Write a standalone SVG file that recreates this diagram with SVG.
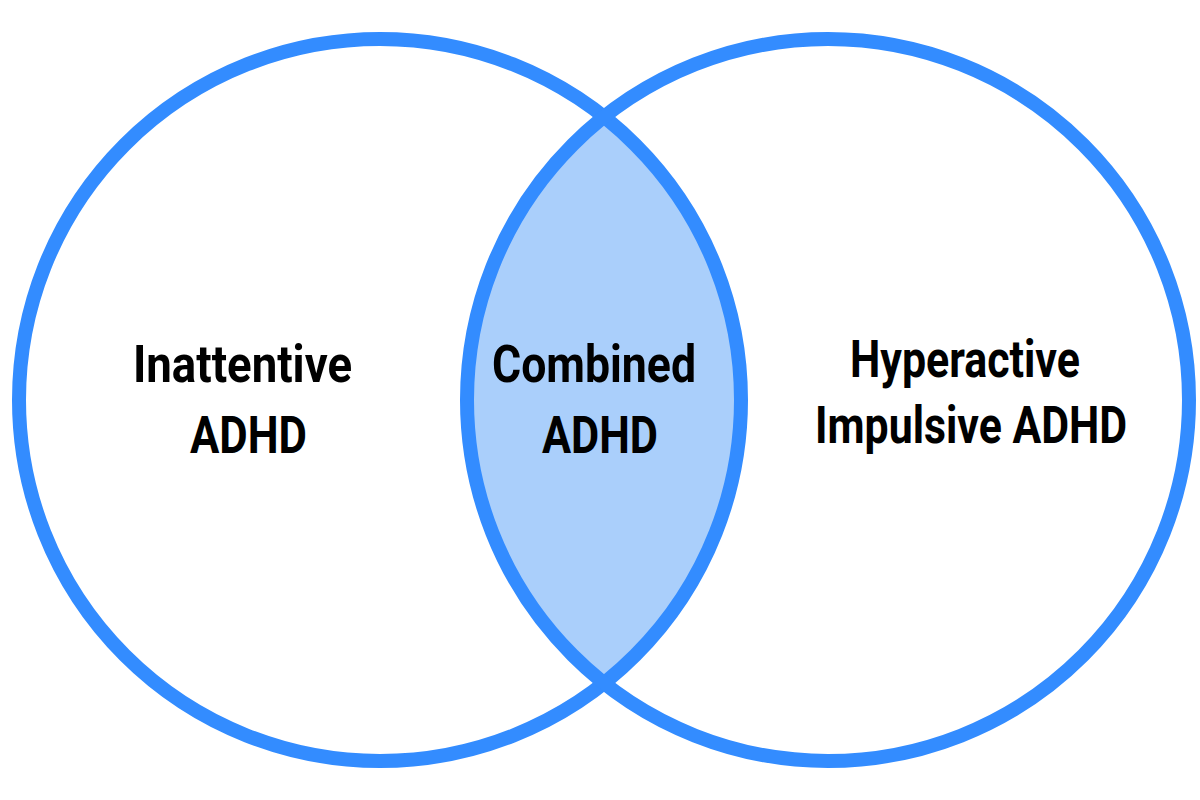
<svg xmlns="http://www.w3.org/2000/svg" width="1200" height="800" viewBox="0 0 1200 800">
  <style>
    .ring { fill: none; stroke: #338cff; stroke-width: 14; }
    .lens { fill: #aacffb; stroke: none; }
    .label { font-family: Roboto, "Liberation Sans", sans-serif; font-weight: bold; font-size: 52px; fill: #000; text-anchor: middle; }
  </style>
  <rect width="1200" height="800" fill="#ffffff"/>
  <g id="combined">
    <path class="lens" d="M604,117 A361,361 0 0,0 604,683 A361,361 0 0,0 604,117 Z"/>
  </g>
  <g id="inattentive">
    <circle class="ring" cx="380" cy="400" r="361"/>
    <text class="label" x="242.5" y="382" textLength="219" lengthAdjust="spacingAndGlyphs">Inattentive</text>
    <text class="label" x="248.5" y="453" textLength="117" lengthAdjust="spacingAndGlyphs">ADHD</text>
  </g>
  <g id="hyperactive">
    <circle class="ring" cx="828" cy="400" r="361"/>
    <text class="label" x="965" y="377" textLength="230" lengthAdjust="spacingAndGlyphs">Hyperactive</text>
    <text class="label" x="971" y="443" textLength="312" lengthAdjust="spacingAndGlyphs">Impulsive ADHD</text>
  </g>
  <g id="combined-label">
    <text class="label" x="594" y="382" textLength="204" lengthAdjust="spacingAndGlyphs">Combined</text>
    <text class="label" x="600" y="453" textLength="116" lengthAdjust="spacingAndGlyphs">ADHD</text>
  </g>
  <g id="connectors"></g>
</svg>
